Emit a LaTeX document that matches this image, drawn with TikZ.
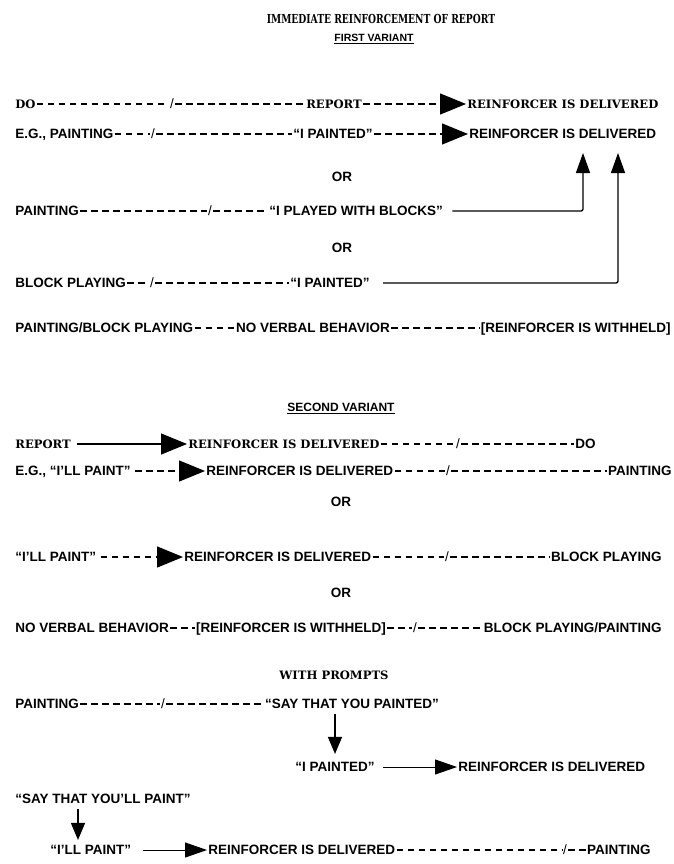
\documentclass[tikz,border=0pt]{standalone}
\usepackage{fontspec}
\usepackage{graphicx}
\setmainfont{Liberation Sans}
\newfontfamily\slab{DejaVu Serif}
\usetikzlibrary{arrows.meta}

\tikzset{
  txt/.style={inner xsep=1.2pt, inner ysep=0pt, text height=9.7pt, text depth=0pt,
              font=\fontsize{13.5}{16}\selectfont\bfseries},
  stxt/.style={inner xsep=1.2pt, inner ysep=0pt, text height=8.6pt, text depth=0pt,
               font=\fontsize{11.6}{15}\selectfont\slab\bfseries},
  head/.style={inner sep=0pt, text height=7.5pt, text depth=0pt},
  sl/.style={inner xsep=1pt, inner ysep=0pt, text height=9.7pt, text depth=0pt,
             font=\fontsize{13.5}{16}\selectfont},
  dsh/.style={line width=1.3pt, dash pattern=on 6.5pt off 4.5pt},
  dsharr/.style={dsh, -{Triangle[length=26pt,width=21pt]}},
  solarr/.style={line width=1.2pt, -{Triangle[length=26pt,width=21pt]}},
  uparr/.style={line width=1.3pt, rounded corners=2pt, -{Triangle[length=20pt,width=14pt]}},
  downarr/.style={line width=1.3pt, -{Triangle[length=17pt,width=14pt]}},
  parr/.style={line width=1pt, -{Triangle[length=22pt,width=15pt]}},
}

\begin{document}
\begin{tikzpicture}[x=1pt,y=-1pt]
\useasboundingbox[fill=white] (0,0) rectangle (674,864);

% ---------- headings ----------
\node[stxt, font=\fontsize{12.4}{15}\selectfont\slab\bfseries] (title) at (381,19) {\scalebox{0.74}[1]{IMMEDIATE REINFORCEMENT OF REPORT}};
\node[head, font=\fontsize{10.5}{12}\selectfont\bfseries] (fv) at (374,38) {\underline{FIRST VARIANT}};

% ---------- first variant ----------
\node[stxt, anchor=west] (do1) at (14,104) {DO};
\node[sl] (s1) at (172,104) {/};
\node[stxt] (rep1) at (334,104) {REPORT};
\node[stxt, anchor=west] (rid1) at (466,104) {REINFORCER IS DELIVERED};
\draw[dsh] (do1) -- (s1);
\draw[dsh] (s1) -- (rep1);
\draw[dsharr] (rep1) -- (rid1);

\node[txt, anchor=west] (eg1) at (14,134) {E.G., PAINTING};
\node[sl] (s2) at (153,134) {/};
\node[txt] (ip1) at (333,134) {“I PAINTED”};
\node[txt, anchor=west] (rid2) at (468,134) {REINFORCER IS DELIVERED};
\draw[dsh] (eg1) -- (s2);
\draw[dsh] (s2) -- (ip1);
\draw[dsharr] (ip1) -- (rid2);

\node[txt] (or1) at (342,177) {OR};

\node[txt, anchor=west] (p3) at (14,211) {PAINTING};
\node[sl] (s3) at (210,211) {/};
\node[txt, anchor=west] (ipb) at (268,211) {“I PLAYED WITH BLOCKS”};
\coordinate (up1) at (583,153);
\draw[dsh] (p3) -- (s3);
\draw[dsh] (s3) -- (ipb);
\draw[uparr] ([xshift=8pt]ipb.east) -- (ipb.east -| up1) -- (up1);

\node[txt] (or2) at (342,248) {OR};

\node[txt, anchor=west] (bp4) at (14,283) {BLOCK PLAYING};
\node[sl] (s4) at (152,283) {/};
\node[txt] (ip2) at (330,283) {“I PAINTED”};
\coordinate (up2) at (618,153);
\draw[dsh] (bp4) -- (s4);
\draw[dsh] (s4) -- (ip2);
\draw[uparr] ([xshift=12pt]ip2.east) -- (ip2.east -| up2) -- (up2);

\node[txt, anchor=west] (pbp) at (14,328) {PAINTING/BLOCK PLAYING};
\node[txt] (nvb) at (313,328) {NO VERBAL BEHAVIOR};
\node[txt, anchor=east] (riw) at (672,328) {[REINFORCER IS WITHHELD]};
\draw[dsh] (pbp) -- (nvb);
\draw[dsh] (nvb) -- (riw);

% ---------- second variant ----------
\node[head, font=\fontsize{12}{14}\selectfont\bfseries, text height=8.6pt] (sv) at (341,407) {\underline{SECOND VARIANT}};

\node[stxt, anchor=west] (rep2) at (14,444) {REPORT};
\node[stxt, anchor=west] (rid3) at (187,444) {REINFORCER IS DELIVERED};
\node[sl] (s5) at (458,444) {/};
\node[txt, anchor=east] (do2) at (597,444) {DO};
\draw[solarr, shorten <=5pt] (rep2) -- (rid3);
\draw[dsh] (rid3) -- (s5);
\draw[dsh] (s5) -- (do2);

\node[txt, anchor=west] (eg2) at (14,471) {E.G., “I’LL PAINT”};
\node[txt, anchor=west] (rid4) at (205,471) {REINFORCER IS DELIVERED};
\node[sl] (s6) at (448,471) {/};
\node[txt, anchor=east] (pt2) at (673,471) {PAINTING};
\draw[dsharr, shorten <=3pt] (eg2) -- (rid4);
\draw[dsh] (rid4) -- (s6);
\draw[dsh] (s6) -- (pt2);

\node[txt] (or3) at (341,502) {OR};

\node[txt, anchor=west] (ilp) at (14,557) {“I’LL PAINT”};
\node[txt, anchor=west] (rid5) at (183,557) {REINFORCER IS DELIVERED};
\node[sl] (s7) at (447,557) {/};
\node[txt, anchor=east] (bp2) at (663,557) {BLOCK PLAYING};
\draw[dsharr, shorten <=3pt] (ilp) -- (rid5);
\draw[dsh] (rid5) -- (s7);
\draw[dsh] (s7) -- (bp2);

\node[txt] (or4) at (341,593) {OR};

\node[txt, anchor=west] (nvb2) at (14,628) {NO VERBAL BEHAVIOR};
\node[txt] (riw2) at (291,628) {[REINFORCER IS WITHHELD]};
\node[sl] (s8) at (415,628) {/};
\node[txt, anchor=east] (bpp) at (663,628) {BLOCK PLAYING/PAINTING};
\draw[dsh] (nvb2) -- (riw2);
\draw[dsh] (riw2) -- (s8);
\draw[dsh] (s8) -- (bpp);

% ---------- with prompts ----------
\node[stxt] (wp) at (334,675) {WITH PROMPTS};

\node[txt, anchor=west] (p5) at (14,704) {PAINTING};
\node[sl] (s9) at (163,704) {/};
\node[txt] (stp) at (352,704) {“SAY THAT YOU PAINTED”};
\draw[dsh] (p5) -- (s9);
\draw[dsh] (s9) -- (stp);

\node[txt] (ipt) at (335,767) {“I PAINTED”};
\node[txt, anchor=west] (rid6) at (457,767) {REINFORCER IS DELIVERED};
\draw[downarr] ([yshift=-5pt]stp.south -| ipt.north) -- ([yshift=8pt]ipt.north);
\draw[parr, shorten <=7pt] (ipt) -- (rid6);

\node[txt, anchor=west] (sty) at (14,799) {“SAY THAT YOU’LL PAINT”};
\coordinate (dn2) at (78,0);
\node[txt, anchor=west] (ilp2) at (49,850) {“I’LL PAINT”};
\node[txt, anchor=west] (rid7) at (207,850) {REINFORCER IS DELIVERED};
\node[sl] (s10) at (565,850) {/};
\node[txt, anchor=east] (pt3) at (652,850) {PAINTING};
\draw[downarr] ([yshift=-5pt]sty.south -| dn2) -- ([yshift=5pt]ilp2.north -| dn2);
\draw[parr, shorten <=10pt] (ilp2) -- (rid7);
\draw[dsh] (rid7) -- (s10);
\draw[dsh] (s10) -- (pt3);
\end{tikzpicture}
\end{document}
